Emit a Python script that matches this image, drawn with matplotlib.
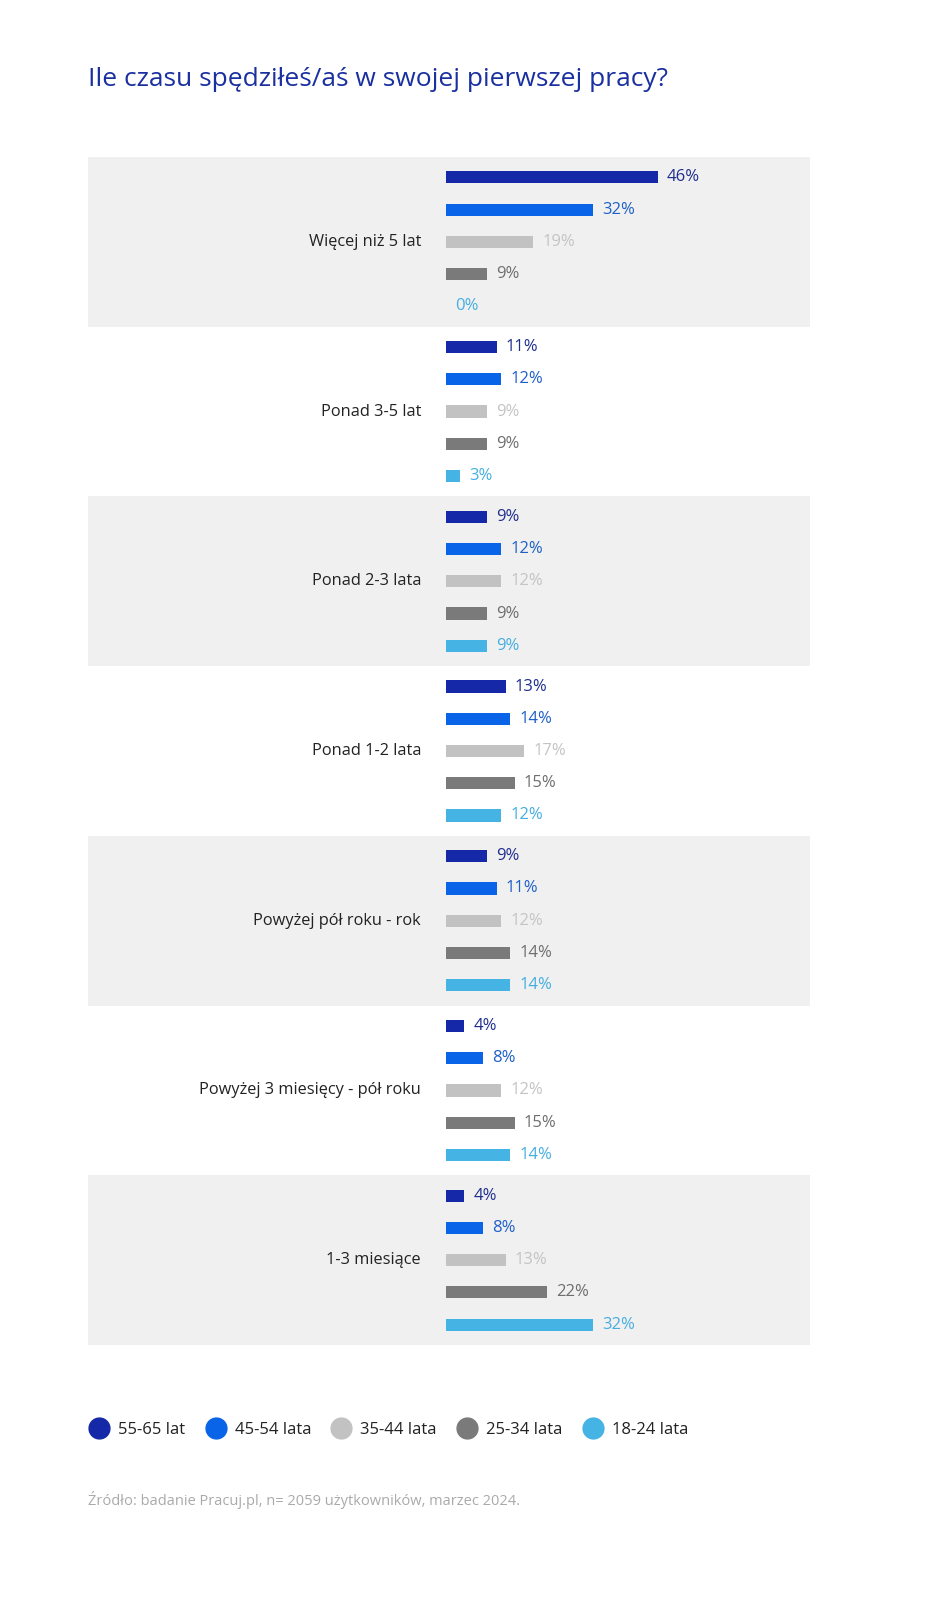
import numpy as np
import matplotlib.pyplot as plt
from matplotlib.lines import Line2D

plt.rcParams['font.family'] = ['Open Sans', 'DejaVu Sans']

categories = ['Więcej niż 5 lat', 'Ponad 3-5 lat', 'Ponad 2-3 lata', 'Ponad 1-2 lata',
              'Powyżej pół roku - rok', 'Powyżej 3 miesięcy - pół roku', '1-3 miesiące']
age_groups = ['55-65 lat', '45-54 lata', '35-44 lata', '25-34 lata', '18-24 lata']

v_55_65 = [46, 11, 9, 13, 9, 4, 4]
v_45_54 = [32, 12, 12, 14, 11, 8, 8]
v_35_44 = [19, 9, 12, 17, 12, 12, 13]
v_25_34 = [9, 9, 9, 15, 14, 15, 22]
v_18_24 = [0, 3, 9, 12, 14, 14, 32]

series = [v_55_65, v_45_54, v_35_44, v_25_34, v_18_24]
bar_colors = ['#1428a8', '#0a64e8', '#c2c2c2', '#7a7a7a', '#45b3e3']
text_colors = ['#1f2e8f', '#1e5fc8', '#c4c4c4', '#6e6e6e', '#45aee0']

fig = plt.figure(figsize=(9.33, 16), dpi=100)
ax = fig.add_axes([88 / 933, 1 - 1345 / 1600, 722 / 933, 1188 / 1600])

px_per_pct = 4.6
ax.set_xlim(-(446 - 88) / px_per_pct, (810 - 446) / px_per_pct)
ax.set_ylim(len(categories), 0)

step = 0.19
bh = 0.072
for i, cat in enumerate(categories):
    if i % 2 == 0:
        ax.axhspan(i, i + 1, color='#f0f0f0', lw=0, zorder=0)
    ax.text(-25 / px_per_pct, i + 0.5, cat, ha='right', va='center',
            fontsize=11.8, color='#222222')
    for j, vals in enumerate(series):
        y = i + 0.5 + (j - 2) * step
        ax.barh(y, vals[i], height=bh, color=bar_colors[j], zorder=2)
        ax.text(vals[i] + 9 / px_per_pct, y, f'{vals[i]}%', ha='left', va='center',
                fontsize=12, color=text_colors[j])

ax.axis('off')

fig.text(88 / 933, 1 - 80 / 1600, 'Ile czasu spędziłeś/aś w swojej pierwszej pracy?',
         ha='left', va='center', fontsize=19, color='#1a2fa0')

handles = [Line2D([], [], marker='o', ls='', markersize=15, color=c) for c in bar_colors]
fig.legend(handles, age_groups, loc='center left', bbox_to_anchor=(76 / 933, 1 - 1430 / 1600),
           ncol=5, frameon=False, fontsize=12, handlelength=1.0, handletextpad=0.65,
           columnspacing=1.3, labelcolor='#222222')

fig.text(88 / 933, 1 - 1500 / 1600, 'Źródło: badanie Pracuj.pl, n= 2059 użytkowników, marzec 2024.',
         ha='left', va='center', fontsize=10.5, color='#aaaaaa')

fig.savefig('out.png', dpi=100)
